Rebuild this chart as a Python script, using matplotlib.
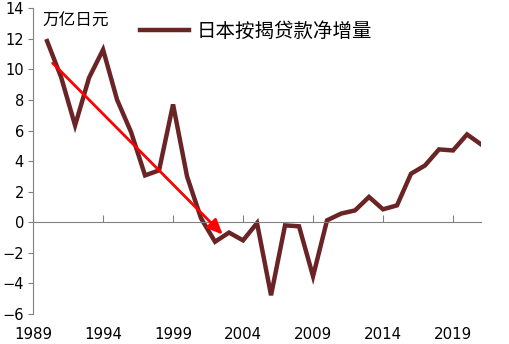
import numpy as np
import matplotlib.pyplot as plt

plt.rcParams['font.family'] = ['Noto Sans CJK SC', 'DejaVu Sans']

years = np.arange(1990, 2022)
net_increase = [11.85, 9.5, 6.34, 9.46, 11.29, 8.02, 5.9, 3.07, 3.4, 7.71,
                3.0, 0.26, -1.27, -0.67, -1.18, -0.05, -4.77, -0.2, -0.26, -3.53,
                0.13, 0.57, 0.78, 1.66, 0.85, 1.11, 3.18, 3.72, 4.77, 4.7,
                5.75, 5.1]

# trend arrow: start and end (year, value)
trend_start = (1990.4, 10.41)
trend_end = (2002.55, -0.8)

xticks = [1989, 1994, 1999, 2004, 2009, 2014, 2019]
yticks = np.arange(-6, 15, 2)

fig = plt.figure(figsize=(5.09, 3.44), dpi=100)
ax = fig.add_axes([0.065, 0.087, 0.88, 0.889])

ax.plot(years, net_increase, color='#6B2426', linewidth=3.2,
        solid_joinstyle='miter', label='日本按揭贷款净增量')

ax.annotate('', xy=trend_end, xytext=trend_start,
            arrowprops=dict(arrowstyle='-|>,head_length=0.9,head_width=0.4',
                            color='#FF0000', linewidth=2.0, shrinkA=0, shrinkB=0))

ax.set_xlim(1989, 2021)
ax.set_ylim(-6, 14)

for side in ['top', 'right']:
    ax.spines[side].set_visible(False)
ax.spines['left'].set_color('#808080')
ax.spines['bottom'].set_color('#808080')
ax.spines['bottom'].set_position(('data', 0))

ax.set_yticks(yticks)
ax.set_yticklabels([str(v).replace('-', '−') for v in yticks],
                   family='DejaVu Sans', fontsize=10.5)
ax.tick_params(axis='y', direction='out', length=3.5, color='#808080', pad=3)

ax.set_xticks(xticks)
ax.tick_params(axis='x', direction='in', length=5, color='#808080',
               labelbottom=False)

# year labels sit along the bottom edge
sec = ax.secondary_xaxis(0)
sec.set_xticks(xticks)
sec.set_xticklabels([str(y) for y in xticks], family='DejaVu Sans', fontsize=10.8)
sec.tick_params(length=0, pad=9)
sec.spines['bottom'].set_visible(False)

ax.text(0.022, 0.985, '万亿日元', transform=ax.transAxes, fontsize=12,
        va='top', ha='left')

ax.legend(loc='upper left', bbox_to_anchor=(0.2, 1.015), frameon=False,
          fontsize=14, handlelength=2.5, handletextpad=0.4)

fig.savefig('out.png', dpi=100)
